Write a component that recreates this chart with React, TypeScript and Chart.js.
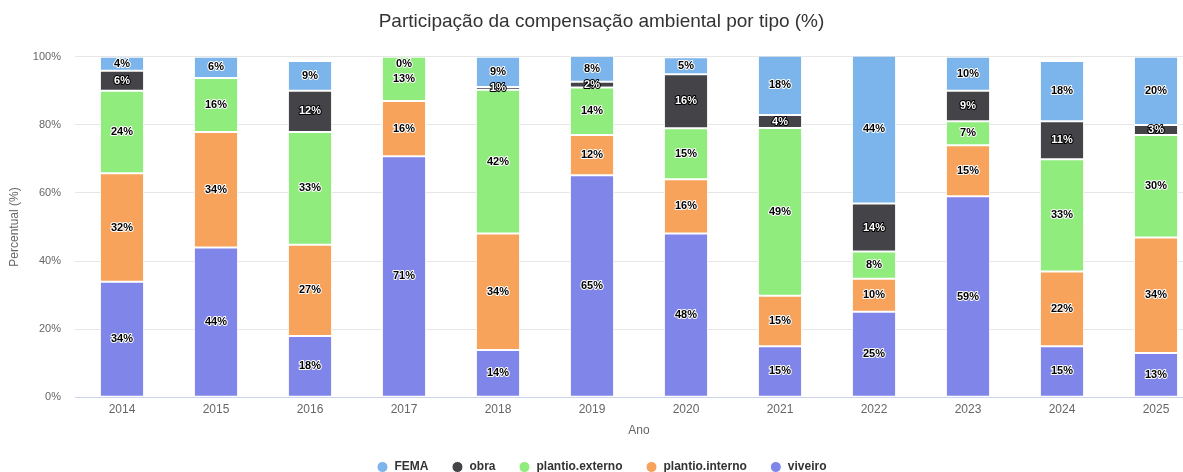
import React, { useEffect, useRef } from "react";
import { Chart, registerables } from "chart.js";

Chart.register(...registerables);

const years = ["2014", "2015", "2016", "2017", "2018", "2019", "2020", "2021", "2022", "2023", "2024", "2025"];
const viveiro = [33.9, 44.0, 18.0, 70.8, 13.9, 65.2, 48.1, 15.0, 25.1, 59.0, 15.0, 13.0];
const plantioInterno = [31.9, 33.9, 26.8, 16.2, 34.2, 11.8, 15.9, 14.8, 9.7, 15.0, 21.9, 33.9];
const plantioExterno = [24.2, 15.9, 33.1, 13.0, 42.2, 14.0, 15.0, 49.3, 8.0, 7.1, 33.0, 30.1];
const obra = [5.9, null, 12.1, null, 0.8, 1.7, 15.9, 3.8, 14.1, 8.9, 11.2, 3.0];
const fema = [4.1, 6.2, 8.8, 0, 8.9, 7.6, 5.0, 17.6, 43.6, 10.0, 17.7, 20.0];
const yTicks = [0, 20, 40, 60, 80, 100];

const FONT = "'Liberation Sans', Arial, Helvetica, sans-serif";

const labelPlugin = {
  id: "barLabels",
  afterDatasetsDraw(chart: any) {
    const ctx = chart.ctx;
    const area = chart.chartArea;
    ctx.save();
    ctx.font = "bold 11px " + FONT;
    ctx.textAlign = "center";
    ctx.textBaseline = "middle";
    ctx.lineJoin = "round";
    chart.data.datasets.forEach((ds: any, di: number) => {
      const meta = chart.getDatasetMeta(di);
      if (meta.hidden) return;
      meta.data.forEach((bar: any, i: number) => {
        const v = ds.data[i];
        if (v === null || v === undefined) return;
        const p = bar.getProps(["x", "y", "base"], true);
        let y = (p.y + p.base) / 2;
        if (y < area.top + 7) y = area.top + 7;
        const txt = Math.round(v) + "%";
        const dark = ds.label === "obra";
        ctx.lineWidth = 2;
        ctx.strokeStyle = dark ? "#000000" : "#ffffff";
        ctx.fillStyle = dark ? "#ffffff" : "#000000";
        ctx.strokeText(txt, p.x, y);
        ctx.fillText(txt, p.x, y);
      });
    });
    ctx.restore();
  },
};

export default function App() {
  const ref = useRef<HTMLCanvasElement>(null);
  useEffect(() => {
    if (!ref.current) return;
    const mk = (label: string, data: any[], color: string) => ({
      label,
      data,
      backgroundColor: color,
      borderColor: "#ffffff",
      borderWidth: 1,
      borderSkipped: false,
      barPercentage: 0.47,
      categoryPercentage: 1,
    });
    const chart = new Chart(ref.current, {
      type: "bar",
      data: {
        labels: years,
        datasets: [
          mk("viveiro", viveiro, "#8085e9"),
          mk("plantio.interno", plantioInterno, "#f7a35c"),
          mk("plantio.externo", plantioExterno, "#90ed7d"),
          mk("obra", obra, "#434348"),
          mk("FEMA", fema, "#7cb5ec"),
        ],
      },
      options: {
        responsive: false,
        animation: false,
        layout: { padding: { left: 0, right: 10, top: 0, bottom: 8 } },
        plugins: {
          tooltip: { enabled: false },
          title: {
            display: true,
            text: "Participação da compensação ambiental por tipo (%)",
            color: "#333333",
            font: { family: FONT, size: 19, weight: "normal" },
            padding: { top: 10, bottom: 24 },
          },
          legend: {
            position: "bottom",
            reverse: true,
            labels: {
              usePointStyle: true,
              pointStyle: "circle",
              boxWidth: 12,
              boxHeight: 7.8,
              padding: 23,
              color: "#333333",
              font: { family: FONT, size: 12, weight: "bold" },
            },
          },
        },
        scales: {
          x: {
            stacked: true,
            grid: { display: false, drawTicks: false },
            border: { display: true, color: "#ccd6eb", width: 1 },
            ticks: { color: "#666666", font: { family: FONT, size: 12 }, padding: 5 },
            title: {
              display: true,
              text: "Ano",
              color: "#666666",
              font: { family: FONT, size: 12 },
              padding: { top: 2, bottom: 0 },
            },
          },
          y: {
            stacked: true,
            min: 0,
            max: 100,
            afterBuildTicks: (s: any) => {
              s.ticks = yTicks.map((v) => ({ value: v }));
            },
            afterFit: (s: any) => {
              s.width = 75;
            },
            grid: { color: "#e6e6e6", drawTicks: false },
            border: { display: false },
            ticks: {
              color: "#666666",
              font: { family: FONT, size: 11 },
              padding: 14,
              callback: (v: any) => v + "%",
            },
            title: {
              display: true,
              text: "Percentual (%)",
              color: "#666666",
              font: { family: FONT, size: 12 },
              padding: { top: 7, bottom: 0 },
            },
          },
        },
      },
      plugins: [labelPlugin],
    });
    return () => chart.destroy();
  }, []);
  return (
    <div style={{ position: "fixed", left: 0, top: 0, width: 1183, height: 472, overflow: "hidden", background: "#ffffff" }}>
      <canvas ref={ref} width={1213} height={491} style={{ display: "block" }} />
    </div>
  );
}
